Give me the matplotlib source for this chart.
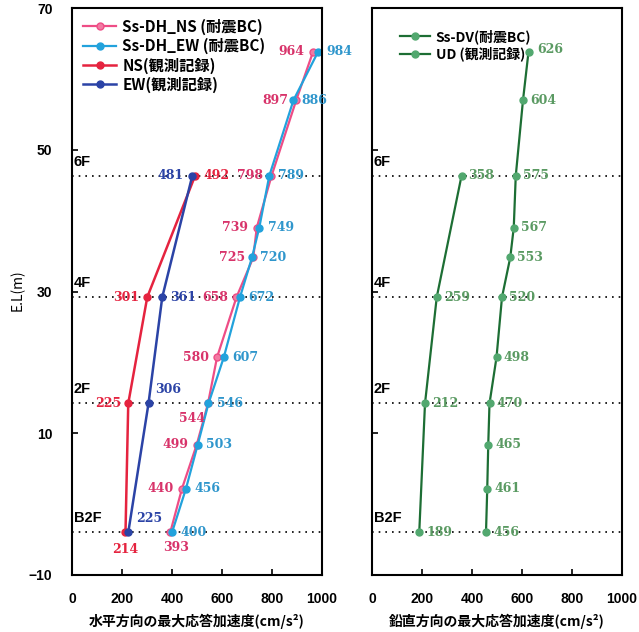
import matplotlib.pyplot as plt

plt.rcParams['font.family'] = ['Noto Sans CJK JP', 'DejaVu Sans']

# 標高 (E.L. m)
el = [63.8, 57.0, 46.3, 39.0, 34.8, 29.2, 20.7, 14.2, 8.4, 2.2, -4.0]
el_obs = [46.3, 29.2, 14.2, -4.0]
floors = ['6F', '4F', '2F', 'B2F']

# 水平方向
ss_ns = [964, 897, 798, 739, 725, 658, 580, 544, 499, 440, 393]
ss_ew = [984, 886, 789, 749, 720, 672, 607, 546, 503, 456, 400]
obs_ns = [492, 301, 225, 214]
obs_ew = [481, 361, 306, 225]

# 鉛直方向
ss_dv = [626, 604, 575, 567, 553, 520, 498, 470, 465, 461, 456]
obs_ud = [358, 259, 212, 189]

c_pink = '#ee4d86'
c_lblue = '#22a2dc'
c_red = '#e5233f'
c_dblue = '#2b43a6'
c_green = '#1d6e34'
c_lgreen = '#52a86f'

fig = plt.figure(figsize=(6.39, 6.32), dpi=100)
ax1 = fig.add_axes([72/639, 57/632, 250/639, 567/632])
ax2 = fig.add_axes([372/639, 57/632, 250/639, 567/632])

numfont = dict(family='DejaVu Serif', fontsize=9, fontweight='bold')

ax1.plot(ss_ns, el, '-o', color=c_pink, mfc='#f27aa2', mec=c_pink, ms=5, lw=1.6, label='Ss-DH_NS (耐震BC)')
ax1.plot(ss_ew, el, '-o', color=c_lblue, mfc=c_lblue, mec=c_lblue, ms=5, lw=1.6, label='Ss-DH_EW (耐震BC)')
ax1.plot(obs_ns, el_obs, '-o', color=c_red, mfc=c_red, ms=5, lw=1.8, label='NS(観測記録)')
ax1.plot(obs_ew, el_obs, '-o', color=c_dblue, mfc=c_dblue, ms=5, lw=1.8, label='EW(観測記録)')

for i, (v, y) in enumerate(zip(ss_ns, el)):
    if v == 544:
        off, ha, va = (-2, -11), 'right', 'center'
    elif v == 393:
        off, ha, va = (4, -11), 'center', 'center'
    else:
        off, ha, va = (-6, 0), 'right', 'center'
    ax1.annotate(str(v), (v, y), xytext=off, textcoords='offset points',
                 ha=ha, va=va, color='#d8336a', **numfont)
for v, y in zip(ss_ew, el):
    ax1.annotate(str(v), (v, y), xytext=(6, 0), textcoords='offset points',
                 ha='left', va='center', color='#2f96cc', **numfont)

ns_off = [((6, 0), 'left'), ((-6, 0), 'right'), ((-5, 0), 'right'), ((0, -12), 'center')]
ew_off = [((-6, 0), 'right'), ((6, 0), 'left'), ((5, 10), 'left'), ((6, 10), 'left')]
for (v, y), (off, ha) in zip(zip(obs_ns, el_obs), ns_off):
    ax1.annotate(str(v), (v, y), xytext=off, textcoords='offset points',
                 ha=ha, va='center', color=c_red, **numfont)
for (v, y), (off, ha) in zip(zip(obs_ew, el_obs), ew_off):
    ax1.annotate(str(v), (v, y), xytext=off, textcoords='offset points',
                 ha=ha, va='center', color=c_dblue, **numfont)

ax2.plot(ss_dv, el, '-o', color=c_green, mfc=c_lgreen, mec=c_lgreen, ms=5, lw=1.6, label='Ss-DV(耐震BC)')
ax2.plot(obs_ud, el_obs, '-o', color=c_green, mfc=c_lgreen, mec=c_lgreen, ms=5, lw=1.6, label='UD (観測記録)')
for v, y in zip(ss_dv, el):
    off = (6, 2) if v == 626 else (5, 0)
    ax2.annotate(str(v), (v, y), xytext=off, textcoords='offset points',
                 ha='left', va='center', color='#5a9a62', **numfont)
for v, y in zip(obs_ud, el_obs):
    ax2.annotate(str(v), (v, y), xytext=(5, 0), textcoords='offset points',
                 ha='left', va='center', color='#5a9a62', **numfont)

for ax in (ax1, ax2):
    ax.set_xlim(0, 1000)
    ax.set_ylim(-10, 70)
    ax.set_xticks([0, 200, 400, 600, 800, 1000])
    ax.set_yticks([-10, 10, 30, 50, 70])
    ax.tick_params(direction='in', length=4, width=1.2, pad=14, labelsize=10)
    ax.tick_params(axis='x', pad=12)
    for lab in ax.get_xticklabels() + ax.get_yticklabels():
        lab.set_fontweight('bold')
        lab.set_family('Liberation Sans')
    for s in ax.spines.values():
        s.set_linewidth(1.5)
    for y, f in zip(el_obs, floors):
        ax.axhline(y, color='black', ls=(0, (1, 3)), lw=1.2, zorder=0)
        ax.text(8, y + 1.0, f, fontsize=10.5, fontweight='bold', family='Liberation Sans',
                ha='left', va='bottom')

ax2.tick_params(axis='y', labelleft=False)

# 軸ラベル
fig.text(197/639, 1 - 621/632, '水平方向の最大応答加速度(cm/s²)', ha='center', va='center',
         fontsize=10, fontweight='bold')
fig.text(497/639, 1 - 621/632, '鉛直方向の最大応答加速度(cm/s²)', ha='center', va='center',
         fontsize=10, fontweight='bold')
fig.text(18/639, 1 - 290/632, 'E.L(m)', rotation=90, ha='center', va='center', fontsize=10)

leg_kw = dict(loc='upper left', frameon=False, fontsize=11, handlelength=2.2,
              handletextpad=0.4, labelspacing=0.2, borderaxespad=0.3)
l1 = ax1.legend(**leg_kw)
l2 = ax2.legend(loc='upper left', bbox_to_anchor=(0.06, 0.985), frameon=False, fontsize=10,
                handlelength=2.2, handletextpad=0.4, labelspacing=0.2)
for l in (l1, l2):
    for t in l.get_texts():
        t.set_fontweight('bold')

fig.savefig('out.png', dpi=100)
